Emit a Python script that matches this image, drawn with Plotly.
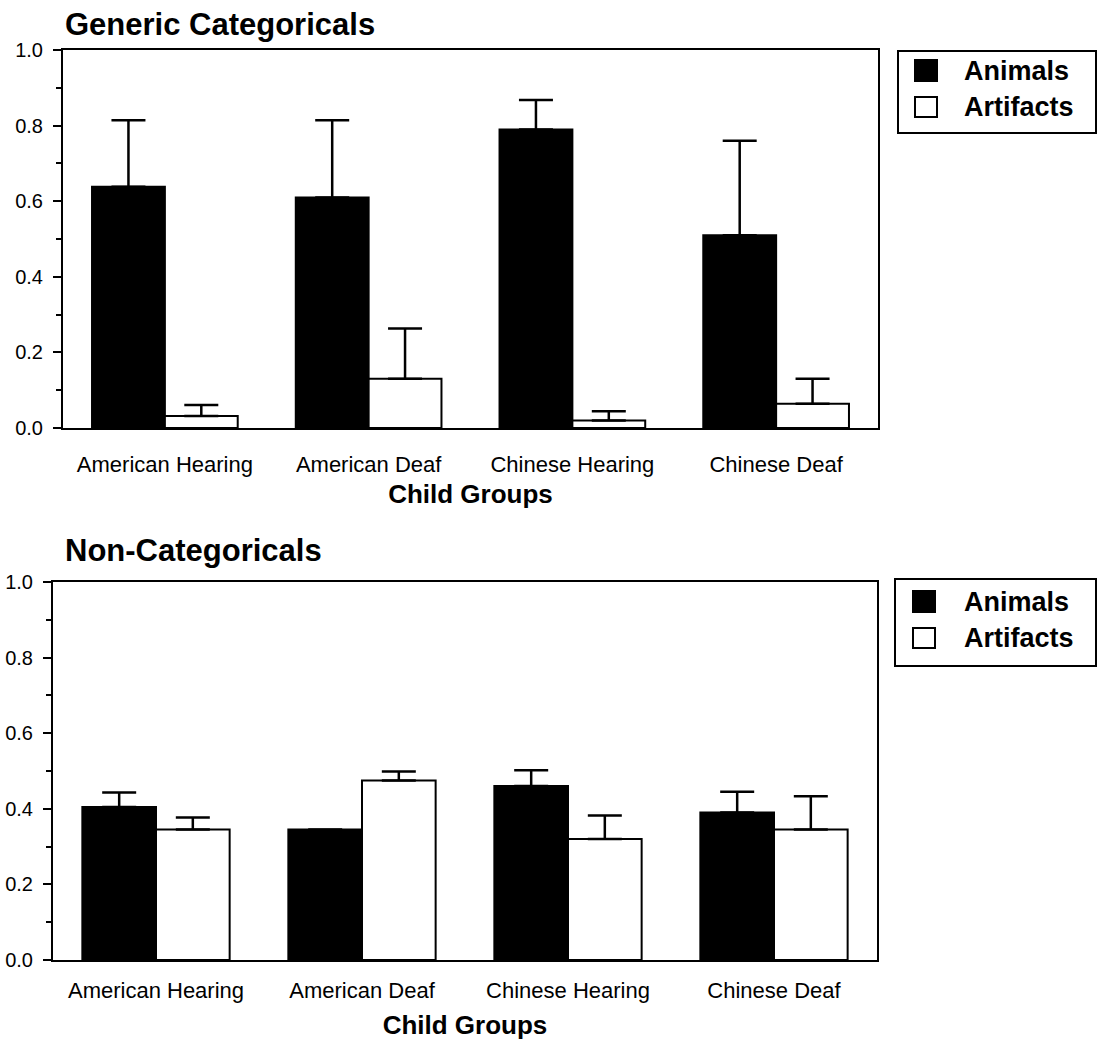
import plotly.graph_objects as go

W, H = 1097, 1040

groups = ["American Hearing", "American Deaf", "Chinese Hearing", "Chinese Deaf"]
series_names = ["Animals", "Artifacts"]

generic_animals = [0.638, 0.610, 0.790, 0.510]
generic_animals_err = [0.176, 0.204, 0.078, 0.250]
generic_artifacts = [0.032, 0.130, 0.020, 0.064]
generic_artifacts_err = [0.029, 0.133, 0.024, 0.066]

noncat_animals = [0.405, 0.345, 0.460, 0.390]
noncat_animals_err = [0.038, 0.0, 0.042, 0.055]
noncat_artifacts = [0.345, 0.475, 0.320, 0.345]
noncat_artifacts_err = [0.032, 0.024, 0.062, 0.088]

panel_titles = ["Generic Categoricals", "Non-Categoricals"]
x_title = "Child Groups"
y_ticks = [0.0, 0.2, 0.4, 0.6, 0.8, 1.0]

FONT = "Liberation Sans, Arial, sans-serif"


def px_x(x):
    return x / W


def px_y(y):
    return 1 - y / H


fig = go.Figure()

panels = [
    (generic_animals, generic_animals_err, generic_artifacts, generic_artifacts_err, "x", "y"),
    (noncat_animals, noncat_animals_err, noncat_artifacts, noncat_artifacts_err, "x2", "y2"),
]

for animals, a_err, artifacts, f_err, xa, ya in panels:
    fig.add_trace(go.Bar(
        x=groups, y=animals, name=series_names[0], xaxis=xa, yaxis=ya,
        marker=dict(color="black", line=dict(color="black", width=2)),
        error_y=dict(type="data", array=a_err, arrayminus=[0] * len(a_err), symmetric=False,
                     color="black", thickness=2.5, width=17),
        showlegend=False,
    ))
    fig.add_trace(go.Bar(
        x=groups, y=artifacts, name=series_names[1], xaxis=xa, yaxis=ya,
        marker=dict(color="white", line=dict(color="black", width=2)),
        error_y=dict(type="data", array=f_err, arrayminus=[0] * len(f_err), symmetric=False,
                     color="black", thickness=2.5, width=17),
        showlegend=False,
    ))


def xaxis_style(label_standoff, title_standoff):
    return dict(
        type="category", range=[-0.5, 3.5], showline=True, linecolor="black", linewidth=2,
        mirror=True, ticks="", showgrid=False, zeroline=False, automargin=False,
        tickfont=dict(family=FONT, size=22, color="black"), ticklabelstandoff=label_standoff,
        title=dict(text="<b>" + x_title + "</b>", font=dict(family=FONT, size=26, color="black"),
                   standoff=title_standoff),
    )


yaxis_common = dict(
    range=[0, 1.0], tickvals=y_ticks, tickformat=".1f", showline=True, linecolor="black", linewidth=2,
    mirror=True, ticks="outside", ticklen=8, tickwidth=2, tickcolor="black",
    minor=dict(ticks="outside", ticklen=5, tickwidth=2, dtick=0.1, tickcolor="black"),
    showgrid=False, zeroline=False, automargin=False,
    tickfont=dict(family=FONT, size=20, color="black"), ticklabelstandoff=6,
)

fig.update_layout(
    width=W, height=H,
    margin=dict(l=0, r=0, t=0, b=0, pad=0),
    paper_bgcolor="white", plot_bgcolor="white",
    barmode="group", bargap=0.285, bargroupgap=0,
    xaxis=dict(domain=[px_x(63), px_x(878)], anchor="y", **xaxis_style(16, 8)),
    yaxis=dict(domain=[px_y(428), px_y(50)], anchor="x", **yaxis_common),
    xaxis2=dict(domain=[px_x(53), px_x(877)], anchor="y2", **xaxis_style(10, 15)),
    yaxis2=dict(domain=[px_y(960), px_y(582)], anchor="x2", **yaxis_common),
    showlegend=False,
)

# Panel titles
for title, ycen in zip(panel_titles, [24, 550]):
    fig.add_annotation(
        text="<b>" + title + "</b>", xref="paper", yref="paper",
        x=px_x(63), y=px_y(ycen), xanchor="left", yanchor="middle", showarrow=False,
        font=dict(family=FONT, size=31, color="black"),
    )

# Legend boxes
legend_specs = [
    dict(box=(898, 51, 1096, 133), sw=[(915, 60, 937, 81), (915, 97, 937, 117)], ty=[71, 107]),
    dict(box=(895, 579, 1096, 666), sw=[(913, 591, 935, 612), (913, 628, 935, 648)], ty=[602, 638]),
]
for spec in legend_specs:
    x0, y0, x1, y1 = spec["box"]
    fig.add_shape(type="rect", xref="paper", yref="paper",
                  x0=px_x(x0), x1=px_x(x1), y0=px_y(y1), y1=px_y(y0),
                  line=dict(color="black", width=2), fillcolor="white")
    fills = ["black", "white"]
    for (sx0, sy0, sx1, sy1), fill, name, ty in zip(spec["sw"], fills, series_names, spec["ty"]):
        fig.add_shape(type="rect", xref="paper", yref="paper",
                      x0=px_x(sx0), x1=px_x(sx1), y0=px_y(sy1), y1=px_y(sy0),
                      line=dict(color="black", width=2), fillcolor=fill)
        fig.add_annotation(text="<b>" + name + "</b>", xref="paper", yref="paper",
                           x=px_x(962), y=px_y(ty), xanchor="left", yanchor="middle", showarrow=False,
                           font=dict(family=FONT, size=27, color="black"))

fig.write_html("out.html", config={"displayModeBar": False},
               post_script="document.body.style.margin='0';document.body.style.overflow='hidden';")
